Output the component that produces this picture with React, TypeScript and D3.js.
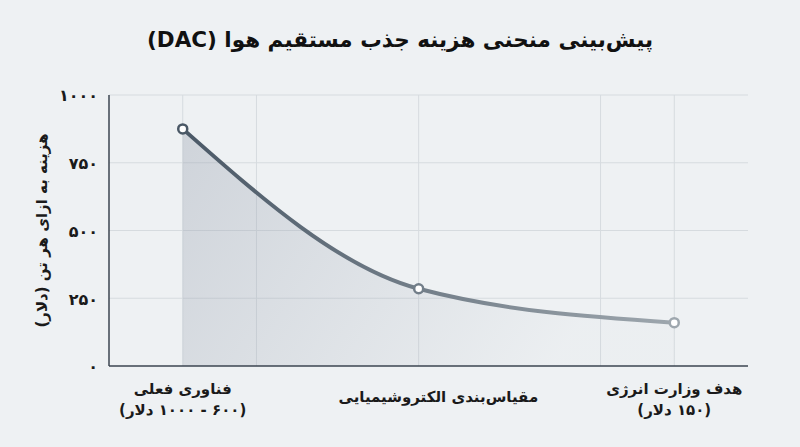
import * as d3 from "d3";

// stage positions along the cost path (0 = today, 100 = DOE target)
const stagePos = [0, 48, 100];
const stageCost = [875, 285, 160];
const stageLabels = [
    ["فناوری فعلی", "(۶۰۰ - ۱۰۰۰ دلار)"],
    ["مقیاس‌بندی الکتروشیمیایی"],
    ["هدف وزارت انرژی", "(۱۵۰ دلار)"],
];
const labelPos = [0, 52, 100];
const xGrid = [0, 15, 48, 85, 100];
const yTicks = [0, 250, 500, 750, 1000];

const title = "پیش‌بینی منحنی هزینه جذب مستقیم هوا (DAC)";
const yTitle = "هزینه به ازای هر تن (دلار)";

const W = 800;
const H = 447;
const margin = { top: 95, right: 52, bottom: 81, left: 109 };

const faDigits = (n: number) =>
    String(n).replace(/[0-9]/g, (d) => "۰۱۲۳۴۵۶۷۸۹"[+d]);

const font = "'DejaVu Sans', 'Noto Sans', sans-serif";

const App = () => {
    const x = d3.scaleLinear().domain([-15, 115]).range([margin.left, W - margin.right]);
    const y = d3.scaleLinear().domain([0, 1000]).range([H - margin.bottom, margin.top]);

    const pts = stagePos.map((p, i) => ({ p, v: stageCost[i] }));

    const line = d3.line<{ p: number; v: number }>()
        .x((d) => x(d.p))
        .y((d) => y(d.v))
        .curve(d3.curveMonotoneX);

    const area = d3.area<{ p: number; v: number }>()
        .x((d) => x(d.p))
        .y0(y(0))
        .y1((d) => y(d.v))
        .curve(d3.curveMonotoneX);

    const lineColor = d3.scaleLinear<string>()
        .domain([0, 100])
        .range(["#4a5866", "#9ea7ae"]);

    return (
        <svg width={W} height={H} style={{ position: "absolute", left: 0, top: 0 }} fontFamily={font}>
            <defs>
                <linearGradient id="lineGrad" gradientUnits="userSpaceOnUse"
                    x1={x(0)} y1={0} x2={x(100)} y2={0}>
                    <stop offset="0%" stopColor={lineColor(0)} />
                    <stop offset="100%" stopColor={lineColor(100)} />
                </linearGradient>
                <linearGradient id="areaGrad" gradientUnits="userSpaceOnUse"
                    x1={x(0)} y1={y(875)} x2={x(75)} y2={y(0)}>
                    <stop offset="0%" stopColor="#9ca4b2" stopOpacity={0.38} />
                    <stop offset="100%" stopColor="#9ca4b2" stopOpacity={0.03} />
                </linearGradient>
            </defs>

            <rect width={W} height={H} fill="#eef1f3" />

            <text x={W / 2} y={47} textAnchor="middle" direction="rtl"
                fontSize={21.5} fontWeight="bold" fill="#111">
                {title}
            </text>

            {/* grid */}
            {yTicks.slice(1).map((t) => (
                <line key={t} x1={x.range()[0]} x2={x.range()[1]} y1={y(t)} y2={y(t)}
                    stroke="#d6dbdf" strokeWidth={1} />
            ))}
            {xGrid.map((g) => (
                <line key={g} x1={x(g)} x2={x(g)} y1={y(1000)} y2={y(0)}
                    stroke="#d6dbdf" strokeWidth={1} />
            ))}

            <path d={area(pts) ?? ""} fill="url(#areaGrad)" />

            {/* axes */}
            <line x1={x.range()[0]} x2={x.range()[0]} y1={y(1000)} y2={y(0)} stroke="#3b4550" strokeWidth={1.5} />
            <line x1={x.range()[0]} x2={x.range()[1]} y1={y(0)} y2={y(0)} stroke="#3b4550" strokeWidth={1.5} />

            {yTicks.map((t) => (
                <text key={t} x={x.range()[0] - 11} y={y(t)} dy="0.4em" textAnchor="end"
                    fontSize={16} fontWeight="bold" fill="#1a1a1a">
                    {faDigits(t)}
                </text>
            ))}

            <text transform={`translate(47,${(y(0) + y(1000)) / 2}) rotate(-90)`}
                textAnchor="middle" direction="rtl" fontSize={15} fontWeight="bold" fill="#1a1a1a">
                {yTitle}
            </text>

            <path d={line(pts) ?? ""} fill="none" stroke="url(#lineGrad)" strokeWidth={4} strokeLinecap="round" />

            {pts.map((d) => (
                <circle key={d.p} cx={x(d.p)} cy={y(d.v)} r={4.5}
                    fill="#fff" stroke={lineColor(d.p)} strokeWidth={2.5} />
            ))}

            {stageLabels.map((lines, i) => {
                const y0 = lines.length === 1 ? 402 : 394;
                return (
                    <text key={i} x={x(labelPos[i])} textAnchor="middle" direction="rtl"
                        fontSize={15} fontWeight="bold" fill="#1a1a1a">
                        {lines.map((l, j) => (
                            <tspan key={j} x={x(labelPos[i])} y={y0 + j * 21}>{l}</tspan>
                        ))}
                    </text>
                );
            })}
        </svg>
    );
};

export default App;
